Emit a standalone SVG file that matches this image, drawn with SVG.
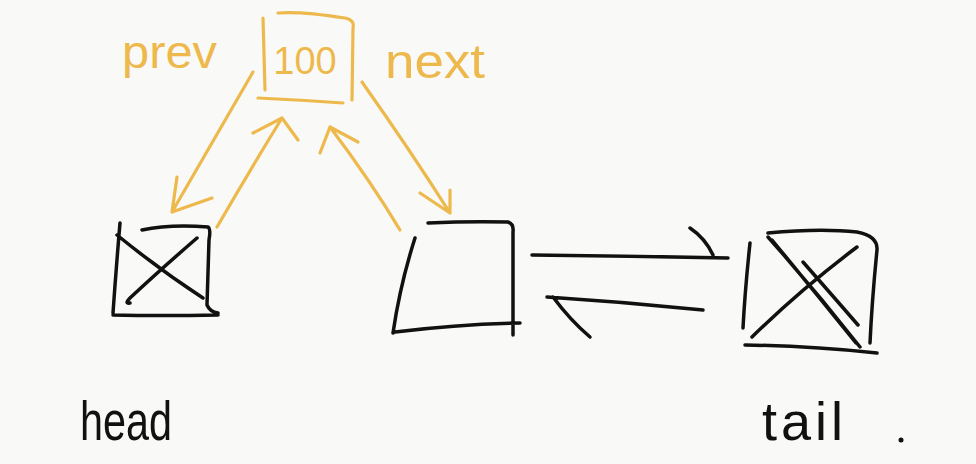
<svg xmlns="http://www.w3.org/2000/svg" width="976" height="464" viewBox="0 0 976 464">
<style>
.ink{fill:none;stroke:#111;stroke-width:3.5;stroke-linecap:round;stroke-linejoin:round}
.or{fill:none;stroke:#EEB94C;stroke-width:3.2;stroke-linecap:round;stroke-linejoin:round}
.lbl{font-family:"Liberation Sans","DejaVu Sans",sans-serif;fill:#111}
.olbl{font-family:"Liberation Sans","DejaVu Sans",sans-serif;fill:#EEB94C}
</style>
<rect width="976" height="464" fill="#f9f9f8"/>
<g id="node-100">
<path class="or" d="M263,18 L265,90 M278,13 Q300,11 345,18 Q355,20 353,28 L352,100 M258,98 Q300,100 343,103"/>
<text class="olbl" x="305" y="74" font-size="38" text-anchor="middle">100</text>
</g>
<g id="label-prev"><text class="olbl" x="122" y="68" font-size="46" textLength="95" lengthAdjust="spacingAndGlyphs">prev</text></g>
<g id="label-next"><text class="olbl" x="385" y="78" font-size="48" textLength="100" lengthAdjust="spacingAndGlyphs">next</text></g>
<g id="node-head">
<path class="ink" d="M120,223 Q116,270 113,313 M142,230 Q170,224 208,227 Q211,229 209,240 L207,305 Q210,312 218,313 M113,315 Q160,316 218,315 M117,235 Q160,270 203,298 M197,238 Q160,270 130,298 Q124,304 130,303"/>
<text class="lbl" x="80" y="440" font-size="56" textLength="92" lengthAdjust="spacingAndGlyphs">head</text>
</g>
<g id="node-mid">
<path class="ink" d="M415,238 Q400,285 393,333 M428,223 Q470,221 508,222 Q514,224 513,232 L513,335 M395,332 Q460,324 520,323"/>
</g>
<g id="node-tail">
<path class="ink" d="M750,243 Q745,290 743,328 M768,233 Q820,228 857,232 Q878,236 877,250 Q872,300 870,343 M745,345 Q810,346 877,353 M768,237 Q815,290 860,347 M772,240 Q815,292 856,343 M857,247 Q800,290 752,337 M803,262 Q832,295 858,325"/>
<text class="lbl" x="762" y="440" font-size="54" letter-spacing="4">tail</text>
<circle cx="901" cy="440" r="2.5" fill="#111"/>
</g>
<g id="connectors">
<path class="or" d="M253,72 L172,212 M177,177 L172,212 L212,198"/>
<path class="or" d="M217,227 Q250,170 282,118 M253,133 L282,118 L298,140"/>
<path class="or" d="M400,230 Q370,180 330,127 M320,153 L330,127 L358,142"/>
<path class="or" d="M362,82 Q410,150 450,213 M420,193 L450,213 L450,190"/>
<path class="ink" d="M532,255 Q630,256 728,258 M690,228 Q705,238 713,255"/>
<path class="ink" d="M703,310 Q625,302 547,297 M553,297 Q570,320 590,337"/>
</g>
</svg>
